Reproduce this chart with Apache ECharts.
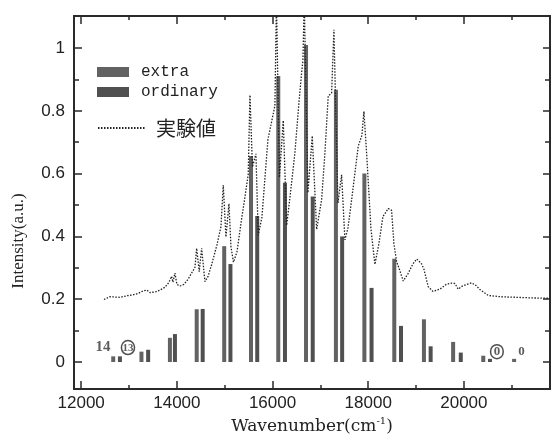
<!DOCTYPE html>
<html><head><meta charset="utf-8">
<script src="https://cdn.jsdelivr.net/npm/echarts@6/dist/echarts.min.js"></script>
<style>html,body{margin:0;padding:0;background:#fff}#c{width:551px;height:447px}</style>
</head><body><div id="c"></div>
<script>
// ---- data ----
const extraWavenumber = [12670, 13260, 13855, 14415, 14990, 15550, 16120, 16700, 17325, 17920, 18545, 19165, 19775, 20405, 21050];
const extraIntensity  = [0.018, 0.033, 0.077, 0.168, 0.369, 0.656, 0.911, 1.01, 0.867, 0.600, 0.329, 0.136, 0.064, 0.020, 0.010];
const ordinaryWavenumber = [12810, 13400, 13960, 14540, 15120, 15680, 16260, 16840, 17455, 18070, 18685, 19305, 19935, 20545];
const ordinaryIntensity  = [0.018, 0.039, 0.089, 0.169, 0.312, 0.465, 0.571, 0.527, 0.400, 0.236, 0.115, 0.050, 0.030, 0.010];
const expWavenumber = [12476,12602,12811,12957,13082,13187,13291,13375,13438,13563,
  13647,13751,13835,13891,13918,13960,14002,14065,14148,14232,
  14315,14378,14414,14468,14518,14587,14650,14733,14838,14922,
  14970,15026,15089,15131,15183,15256,15354,15423,15492,15528,
  15580,15653,15701,15778,15904,15987,16050,16082,16144,16224,
  16295,16364,16468,16552,16608,16635,16663,16740,16830,16922,
  17026,17095,17164,17235,17283,17367,17444,17513,17576,17653,
  17791,17868,17910,17967,18015,18057,18140,18224,18307,18418,
  18489,18537,18594,18648,18732,18830,18934,19012,19060,19116,
  19164,19254,19352,19499,19639,19749,19812,19881,19958,20057,
  20161,20251,20335,20508,20753,21442,21798];
const expIntensity = [0.199,0.208,0.206,0.211,0.214,0.218,0.226,0.229,0.221,0.224,
  0.229,0.238,0.254,0.273,0.254,0.283,0.247,0.242,0.247,0.263,
  0.285,0.301,0.362,0.288,0.362,0.256,0.272,0.313,0.373,0.431,
  0.564,0.398,0.504,0.367,0.318,0.350,0.456,0.525,0.598,0.850,
  0.621,0.663,0.404,0.461,0.709,0.770,0.817,1.15,0.588,0.769,
  0.435,0.524,0.667,0.826,0.921,0.960,1.15,0.539,0.720,0.422,
  0.517,0.666,0.847,0.857,1.058,0.506,0.596,0.389,0.426,0.516,
  0.687,0.722,0.798,0.664,0.537,0.425,0.311,0.377,0.463,0.489,
  0.483,0.377,0.319,0.297,0.258,0.281,0.312,0.328,0.322,0.312,
  0.296,0.240,0.225,0.232,0.248,0.251,0.250,0.232,0.241,0.247,
  0.252,0.244,0.231,0.212,0.208,0.204,0.203];
const annotationWavenumber = [12455, 12978, 20690, 21206];
const annotationIntensity  = [0.046, 0.046, 0.033, 0.033];
const annotationText       = ['14', '13', '0', '0'];
const annotationCircled    = [false, true, true, false];
const xMajorTicks = [12000, 14000, 16000, 18000, 20000];
const xMinorTicks = [13000, 15000, 17000, 19000, 21000];
const yMajorTicks = [0, 0.2, 0.4, 0.6, 0.8, 1];
const yMinorTicks = [0.1, 0.3, 0.5, 0.7, 0.9];
const X_MIN = 11850, X_MAX = 21800, Y_MIN = -0.086, Y_MAX = 1.102;

// ---- chart ----
const zip = (a, b) => a.map((v, i) => [v, b[i]]);
const INK = '#222';
const tickStyle = {color: '#2a2a2a', width: 1.5};
function axis(kind, grid, pos, ticks, len, withLabels) {
  return {
    type: 'value', gridIndex: grid, position: pos,
    min: kind === 'x' ? X_MIN : Y_MIN, max: kind === 'x' ? X_MAX : Y_MAX,
    axisLine: {show: false, onZero: false},
    axisTick: {show: true, inside: true, length: len, customValues: ticks, lineStyle: tickStyle},
    axisLabel: withLabels ? {show: true, customValues: ticks, margin: kind === 'x' ? 6 : 9,
      fontSize: 17, fontFamily: 'Liberation Sans', color: INK,
      formatter: v => String(v)} : {show: false},
    splitLine: {show: false}
  };
}
const xAxes = [
  axis('x', 0, 'bottom', xMajorTicks, 8, true),
  axis('x', 1, 'top', xMajorTicks, 8, false),
  axis('x', 2, 'bottom', xMinorTicks, 4, false),
  axis('x', 3, 'top', xMinorTicks, 4, false)
];
xAxes[0].name = '{a|Wavenumber(cm}{s|-1}{a|)}';
xAxes[0].nameLocation = 'middle';
xAxes[0].nameGap = 27;
xAxes[0].nameTextStyle = {rich: {
  a: {fontFamily: 'DejaVu Serif', fontSize: 17, color: INK, lineHeight: 20},
  s: {fontFamily: 'DejaVu Serif', fontSize: 10, color: INK, verticalAlign: 'top', lineHeight: 20}
}};
const yAxes = [
  axis('y', 0, 'left', yMajorTicks, 8, true),
  axis('y', 1, 'right', yMajorTicks, 7, false),
  axis('y', 2, 'left', yMinorTicks, 5, false),
  axis('y', 3, 'right', yMinorTicks, 5, false)
];

const legendBase = {orient: 'vertical', itemGap: 0, selectedMode: false,
  textStyle: {fontFamily: 'Liberation Mono', fontSize: 16, color: INK, padding: [0, 0, 0, 7]}};
const gridRect = {left: 74, right: 1, top: 16, bottom: 58, containLabel: false};

const chart = echarts.init(document.getElementById('c'));
chart.setOption({
  animation: false,
  backgroundColor: '#fff',
  grid: [
    Object.assign({show: true, borderWidth: 2, borderColor: '#2a2a2a', backgroundColor: 'transparent'}, gridRect),
    Object.assign({}, gridRect), Object.assign({}, gridRect), Object.assign({}, gridRect)
  ],
  xAxis: xAxes,
  yAxis: yAxes,
  legend: [
    Object.assign({}, legendBase, {data: [{name: 'extra', icon: 'rect'}], left: 92, top: 59, itemWidth: 32, itemHeight: 10}),
    Object.assign({}, legendBase, {data: [{name: 'ordinary', icon: 'rect'}], left: 92, top: 79, itemWidth: 32, itemHeight: 10}),
    Object.assign({}, legendBase, {data: [{name: '実験値', itemStyle: {opacity: 0}}], left: 92, top: 113, itemWidth: 48, itemHeight: 10,
      textStyle: {fontFamily: 'Noto Sans CJK JP', fontSize: 20, color: INK, padding: [0, 0, 0, 5]}})
  ],
  graphic: [{
    type: 'text', x: 19, y: 241, rotation: Math.PI / 2,
    style: {text: 'Intensity(a.u.)', font: '17px "Liberation Serif"', fill: INK, align: 'center', verticalAlign: 'middle'}
  }],
  series: [
    {name: 'extra', type: 'bar', xAxisIndex: 0, yAxisIndex: 0, barWidth: 4, barGap: '-100%',
      itemStyle: {color: '#626262'}, data: zip(extraWavenumber, extraIntensity), z: 2},
    {name: 'ordinary', type: 'bar', xAxisIndex: 0, yAxisIndex: 0, barWidth: 4, barGap: '-100%',
      itemStyle: {color: '#505050'}, data: zip(ordinaryWavenumber, ordinaryIntensity), z: 2},
    {name: '実験値', type: 'line', xAxisIndex: 0, yAxisIndex: 0, symbol: 'none', showSymbol: false,
      clip: true, z: 3, color: '#222', lineStyle: {color: '#222', width: 1.3, type: [1.5, 1.5]},
      data: zip(expWavenumber, expIntensity)},
    {type: 'scatter', xAxisIndex: 0, yAxisIndex: 0, symbolSize: 1, z: 4, silent: true,
      itemStyle: {color: 'rgba(0,0,0,0)'},
      data: annotationWavenumber.map((w, i) => [w, annotationIntensity[i], i]),
      label: {show: true, position: 'inside', color: INK,
        formatter: p => {
          const i = p.data[2];
          const k = (annotationCircled[i] ? 'c' : 'n') + (annotationText[i].length > 1 ? '2' : '1');
          return '{' + k + '|' + annotationText[i] + '}';
        },
        rich: {
          n2: {fontFamily: 'Liberation Serif', fontSize: 15, fontWeight: 'bold', color: '#333'},
          n1: {fontFamily: 'Liberation Serif', fontSize: 13, fontWeight: 'bold', color: '#333'},
          c2: {fontFamily: 'Liberation Serif', fontSize: 11, fontWeight: 'bold', color: '#333', borderColor: INK, borderWidth: 1.5,
            borderRadius: 8, padding: [2, 1, 1, 1]},
          c1: {fontFamily: 'Liberation Serif', fontSize: 13, fontWeight: 'bold', color: '#333', borderColor: INK, borderWidth: 1.5,
            borderRadius: 8, padding: [1, 3, 0, 3]}
        }
      }}
  ]
});
</script></body></html>
